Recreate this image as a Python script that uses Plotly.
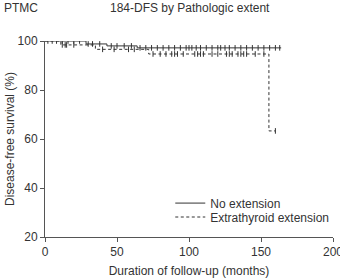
import plotly.graph_objects as go

# Kaplan-Meier step curves (months, survival %)
noext_t = [0, 28.5, 43, 64, 164]
noext_s = [100, 98.8, 98.0, 97.2, 97.2]
ete_t = [0, 11, 35, 72, 155.5, 155.5, 160]
ete_s = [100, 98.4, 96.6, 94.7, 94.7, 63.3, 63.3]

# censor marks
noext_cens_t = [2, 5, 8, 12, 16, 20, 24, 30, 33, 38, 46, 50, 55, 60, 66, 70, 74, 78, 82, 86, 90, 94,
                98, 100, 102, 105, 108, 112, 116, 120, 122, 125, 128, 132, 136, 140, 144, 148, 152, 156, 160, 163]
ete_cens_t = [12, 14, 15, 20, 40, 48, 58, 62, 75, 80, 84, 88, 90, 92, 96, 104, 106, 108, 110, 116, 120,
              126, 128, 130, 134, 136, 138, 140, 146, 152]
ete_cens_last = [160]

def surv_at(ts, ss, t):
    v = ss[0]
    for ti, si in zip(ts, ss):
        if ti <= t:
            v = si
    return v

fig = go.Figure()
line_col = "#333333"
fig.add_trace(go.Scatter(x=noext_t, y=noext_s, mode="lines", line=dict(color=line_col, width=1, shape="hv"),
                         name="No extension", legend="legend"))
fig.add_trace(go.Scatter(x=ete_t, y=ete_s, mode="lines", line=dict(color=line_col, width=1, shape="hv", dash="3px,2.5px"),
                         name="Extrathyroid extension", legend="legend2"))
fig.add_trace(go.Scatter(x=noext_cens_t, y=[surv_at(noext_t, noext_s, t) for t in noext_cens_t], mode="markers",
                         marker=dict(symbol="line-ns-open", size=4, color=line_col, line=dict(width=1, color=line_col)),
                         showlegend=False, hoverinfo="skip"))
ete_c = ete_cens_t + ete_cens_last
ete_cy = [surv_at(ete_t[:4], ete_s[:4], t) for t in ete_cens_t] + [ete_s[-1]]
fig.add_trace(go.Scatter(x=ete_c, y=ete_cy, mode="markers",
                         marker=dict(symbol="line-ns-open", size=4, color=line_col, line=dict(width=1, color=line_col)),
                         showlegend=False, hoverinfo="skip"))

font = dict(family="Liberation Sans, Arial, sans-serif", size=12, color="#333333")
leg_common = dict(xanchor="left", yanchor="middle", bgcolor="rgba(0,0,0,0)", font=dict(size=12), itemwidth=30)
fig.update_layout(
    width=340, height=278, margin=dict(l=45, r=7, t=41, b=41, autoexpand=False),
    plot_bgcolor="white", paper_bgcolor="white", font=font,
    xaxis=dict(range=[0, 200], tickvals=[0, 50, 100, 150, 200], showgrid=False, zeroline=False,
               showline=True, linecolor="#555555", linewidth=1, ticks="outside", ticklen=4,
               tickcolor="#555555", automargin=False, ticklabeloverflow="allow",
               title=dict(text="Duration of follow-up (months)", standoff=9, font=dict(size=12))),
    yaxis=dict(range=[20, 100], tickvals=[20, 40, 60, 80, 100], showgrid=False, zeroline=False,
               showline=True, linecolor="#555555", linewidth=1, ticks="outside", ticklen=4,
               tickcolor="#555555", automargin=False,
               title=dict(text="Disease-free survival (%)", standoff=0, font=dict(size=12))),
    legend=dict(x=0.435, y=0.173, **leg_common),
    legend2=dict(x=0.435, y=0.102, **leg_common),
    annotations=[
        dict(text="PTMC", xref="paper", yref="paper", x=-0.15, y=1.17, xanchor="left", yanchor="middle",
             showarrow=False, font=dict(size=12)),
        dict(text="184-DFS by Pathologic extent", xref="x", yref="paper", x=101, y=1.17,
             xanchor="center", yanchor="middle", showarrow=False, font=dict(size=12)),
    ],
)
fig.write_html("out.html")
